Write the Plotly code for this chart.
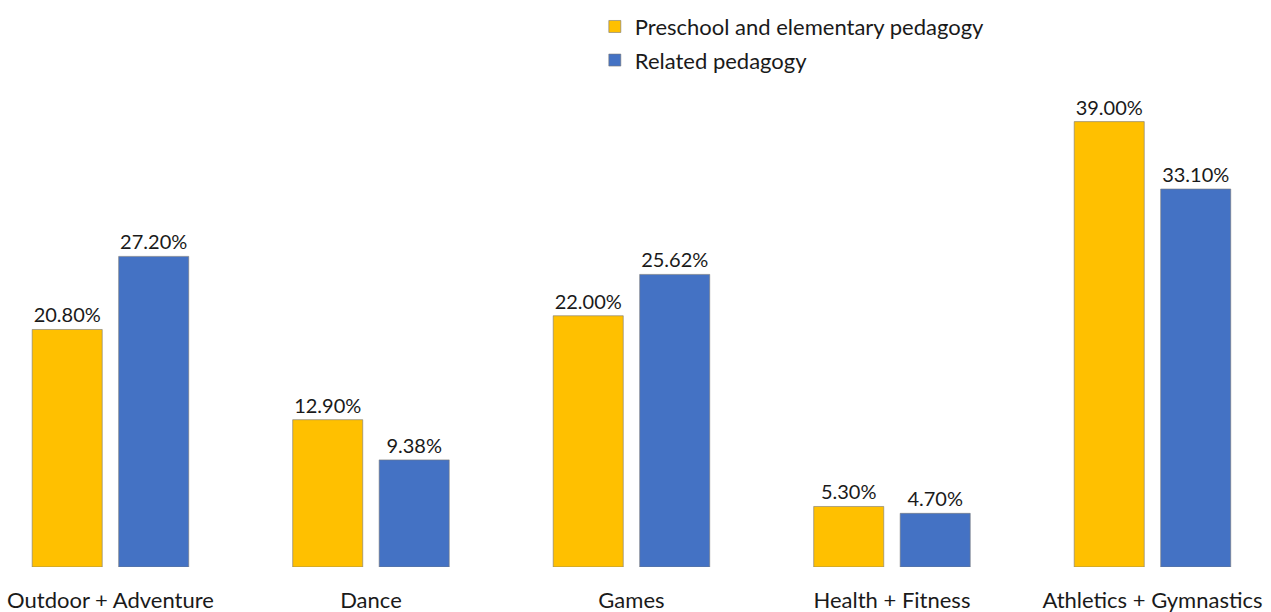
import plotly.graph_objects as go

categories = ["Outdoor + Adventure", "Dance", "Games", "Health + Fitness", "Athletics + Gymnastics"]
preschool = [20.80, 12.90, 22.00, 5.30, 39.00]
related = [27.20, 9.38, 25.62, 4.70, 33.10]
series_names = ["Preschool and elementary pedagogy", "Related pedagogy"]

FONT = "Lato"
TEXT = "#1a1a1a"

fig = go.Figure()
for name, vals, color in [
    (series_names[0], preschool, "#FFC000"),
    (series_names[1], related, "#4472C4"),
]:
    fig.add_trace(go.Bar(
        name=name,
        x=categories,
        y=vals,
        legendgroup=name,
        marker=dict(color=color, line=dict(color="rgba(120,120,120,0.6)", width=1)),
        text=[f"{v:.2f}%" for v in vals],
        textposition="outside",
        textfont=dict(family=FONT, size=20, color=TEXT),
        cliponaxis=False,
    ))

fig.update_layout(
    width=1271,
    height=612,
    margin=dict(l=0, r=0, t=0, b=45),
    paper_bgcolor="white",
    plot_bgcolor="white",
    barmode="group",
    bargap=0.336,
    bargroupgap=0.19,
    font=dict(family=FONT, size=22, color=TEXT),
    showlegend=True,
    legend=dict(
        x=0.468, y=0.99, xanchor="left", yanchor="top",
        font=dict(family=FONT, size=22, color=TEXT),
        tracegroupgap=2,
        itemwidth=30,
        bgcolor="rgba(0,0,0,0)",
    ),
    xaxis=dict(
        range=[-0.424, 4.455],
        showgrid=False,
        zeroline=False,
        showline=False,
        ticks="",
        ticklabelstandoff=18,
        tickfont=dict(family=FONT, size=22, color=TEXT),
    ),
    yaxis=dict(
        range=[0, 49.65],
        visible=False,
        showgrid=False,
        zeroline=False,
    ),
)

fig.write_html("out.html")
